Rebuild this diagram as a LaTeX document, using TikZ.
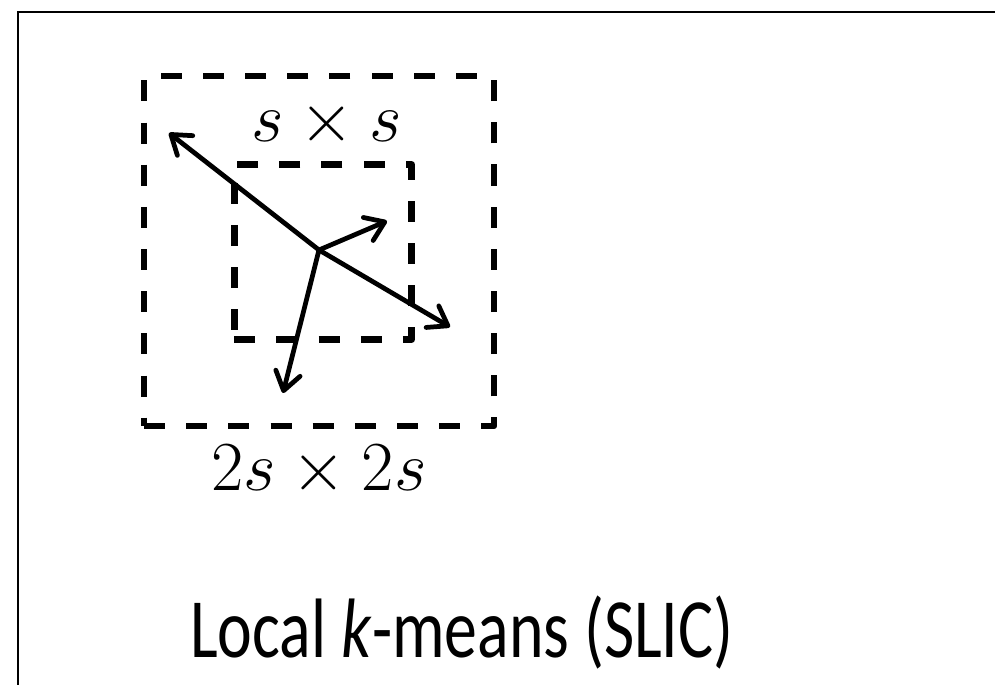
\RequirePackage{fix-cm}
\documentclass[tikz,border=0pt]{standalone}
\usepackage{fontspec}
\newfontfamily\titlefont[FakeStretch=0.78]{Carlito}
\usetikzlibrary{positioning, arrows.meta}

\begin{document}
\begin{tikzpicture}[
        x=0.02cm, y=-0.02cm,
        region/.style={draw=black, rectangle, inner sep=0pt, line width=3.7pt, dash pattern=on 12pt off 12pt, line join=round},
        move/.style={line width=2.7pt, -{Straight Barb[length=3.6mm, width=5mm, round]}},
        sizelabel/.style={inner sep=0pt, font=\fontsize{40}{48}\selectfont}
    ]

    \useasboundingbox (0,0) rectangle (995,685);

    % Rahmen
    \coordinate (fb) at (18,685);
    \coordinate (fc) at (18,12);
    \coordinate (fr) at (995,12);
    \draw[line width=1pt] (fb) -- (fc) -- (fr);

    % Suchfenster
    \node[region, minimum width=7cm, minimum height=7cm] (outer) at (319,251) {};
    \node[region, minimum width=3.55cm, minimum height=3.5cm] (inner) at (323,252) {};

    \node[sizelabel, above=0.27cm of inner, xshift=2pt] (small) {$s\times s$};
    \node[sizelabel, below=0.32cm of outer] (large) {$2s\times 2s$};

    % Zentrum und Verschiebungen
    \coordinate (c) at (319,250);
    \coordinate (t1) at (169,133);
    \coordinate (t2) at (387,221);
    \coordinate (t3) at (450,327);
    \coordinate (t4) at (283,393);
    \foreach \t in {t1, t2, t3, t4}
        \draw[move] (c) -- (\t);

    % Titel
    \node[anchor=base west, inner sep=0pt, font=\fontsize{48}{58}\selectfont] (title) at (190,658) {\titlefont Local \textit{k}-means (SLIC)};

\end{tikzpicture}
\end{document}
